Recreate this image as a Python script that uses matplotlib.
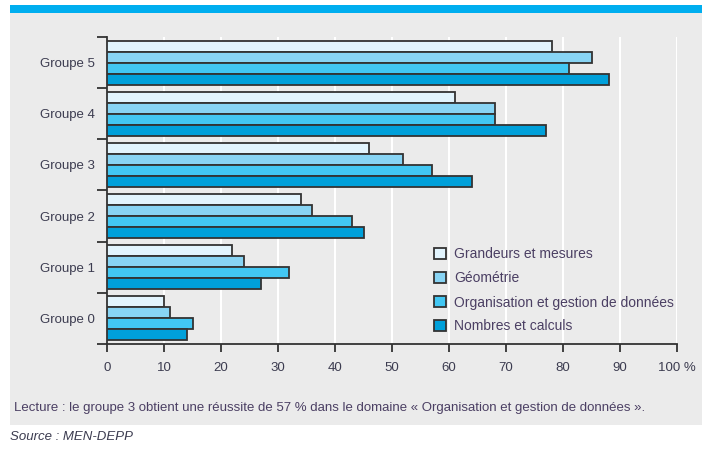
import numpy as np
import matplotlib
matplotlib.use('Agg')
from matplotlib import pyplot as plt
from matplotlib import font_manager as fm
from matplotlib.patches import Rectangle, Patch

groups = ['Groupe 0', 'Groupe 1', 'Groupe 2', 'Groupe 3', 'Groupe 4', 'Groupe 5']
domains = ['Grandeurs et mesures', 'Géométrie',
           'Organisation et gestion de données', 'Nombres et calculs']
grandeurs = [10, 22, 34, 46, 61, 78]
geometrie = [11, 24, 36, 52, 68, 85]
organisation = [15, 32, 43, 57, 68, 81]
nombres = [14, 27, 45, 64, 77, 88]
xticks = [0, 10, 20, 30, 40, 50, 60, 70, 80, 90, 100]
xticklabels = ['0', '10', '20', '30', '40', '50', '60', '70', '80', '90', '100 %']

colors = ['#e2f4fd', '#88d4f4', '#42c7f3', '#00a0da']
edge = '#333333'
txt = '#3c3c50'
names = set(f.name for f in fm.fontManager.ttflist)
narrow = 'Liberation Sans Narrow' in names
plt.rcParams['font.family'] = ['Liberation Sans Narrow' if narrow else 'Liberation Sans', 'DejaVu Sans']
fs = 10.5 if narrow else 9.5

W, H = 702, 451
fig = plt.figure(figsize=(W/100, H/100), dpi=100)

# background panel + blue band
fig.patches.append(Rectangle((10/W, (H-425)/H), 1-10/W, (425-13)/H, transform=fig.transFigure,
                             facecolor='#ebebeb', edgecolor='none', zorder=-2))
fig.patches.append(Rectangle((10/W, (H-13)/H), 1-10/W, 8/H, transform=fig.transFigure,
                             facecolor='#00aeef', edgecolor='none', zorder=-2))

ax = fig.add_axes([107/W, (H-344)/H, (677-107)/W, (344-37)/H])
ax.set_facecolor('none')
ax.set_zorder(1)

y = np.arange(len(groups))
h = 0.215
series = [grandeurs, geometrie, organisation, nombres]
offs = [1.5, 0.5, -0.5, -1.5]
for s, c, o, lab in zip(series, colors, offs, domains):
    ax.barh(y + o*h, s, height=h, color=c, edgecolor=edge, linewidth=1.3, label=lab, zorder=3)

ax.set_xlim(0, 100)
ax.set_ylim(-0.5, 5.5)
ax.set_xticks(xticks)
ax.set_xticklabels(xticklabels, fontsize=fs, color=txt)
ax.set_yticks(np.arange(-0.5, 6, 1))
ax.set_yticklabels([])
ax.set_yticks(y, minor=True)
ax.set_yticklabels(groups, minor=True, fontsize=fs, color=txt)
ax.tick_params(axis='y', which='major', length=7, width=1.3, color=edge)
ax.tick_params(axis='y', which='minor', length=0, pad=9)
ax.tick_params(axis='x', length=6, width=1.3, color=edge, pad=7)
ax.xaxis.grid(True, color='white', linewidth=1.5, zorder=0)
ax.set_axisbelow(True)
for sp in ['top', 'right']:
    ax.spines[sp].set_visible(False)
for sp in ['left', 'bottom']:
    ax.spines[sp].set_color(edge)
    ax.spines[sp].set_linewidth(1.3)

handles = [Patch(facecolor=c, edgecolor=edge, linewidth=1.3) for c in colors]
leg = ax.legend(handles, domains, loc='upper left', bbox_to_anchor=(421/W, (H-235)/H),
                bbox_transform=fig.transFigure, frameon=False, fontsize=10,
                handlelength=0.9, handleheight=0.9, handletextpad=0.6, labelspacing=0.72)
for t in leg.get_texts():
    t.set_color('#4b3f63')

fig.text(14/W, (H-408)/H, 'Lecture : le groupe 3 obtient une réussite de 57 % dans le domaine « Organisation et gestion de données ».',
         fontsize=9.5, color='#4b3f63', va='center', ha='left')
fig.text(10/W, (H-437)/H, 'Source : MEN-DEPP', fontsize=9.5, color='#3c3c50', style='italic',
         va='center', ha='left')

fig.savefig('out.png', dpi=100)
